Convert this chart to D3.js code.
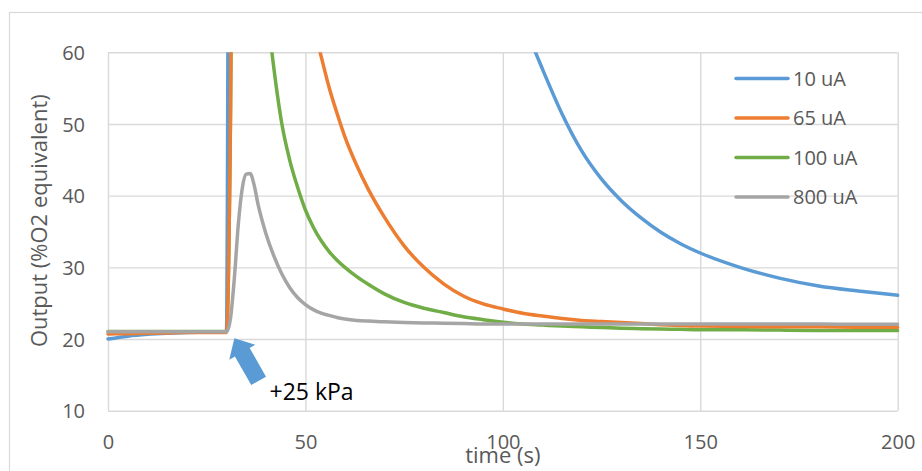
<!DOCTYPE html>
<html>
<head>
<meta charset="utf-8">
<script src="https://cdn.jsdelivr.net/npm/d3@7"></script>
<style>
  html, body { margin: 0; padding: 0; background: #fff; }
  svg { display: block; }
  text { font-family: 'Open Sans', 'Noto Sans', sans-serif; }
</style>
</head>
<body>
<svg id="chart" width="922" height="471"></svg>
<script>
// ---- data ----
const times = [0,5,10,15,20,25,29,30,31,32,33,34,35,36,37,38,39,40,42,44,46,48,50,52,54,56,58,60,63,66,70,75,80,85,90,95,100,105,110,115,120,125,130,135,140,145,150,160,170,180,190,200];

const s10uA = [20.0,20.4,20.65,20.8,20.9,20.95,21.0,21.0,150,149,148.5,148,147.5,147,146.5,146,145.5,145,144,142.5,141,139.5,138,136,134,132,130,128,124.5,121,116,110,103,95.5,87.5,79.5,71.8,64.5,57.7,51.4,46.2,42.3,39.3,36.9,34.9,33.3,32.0,30.0,28.5,27.4,26.7,26.1];

const s65uA = [20.7,20.75,20.8,20.85,20.9,20.9,20.9,20.9,50,126,122.5,119,115.5,112,108.5,105,101.5,98,91.5,85,79,73.5,68.5,63.8,59.4,55.1,51.5,48.2,44.2,40.8,37.0,33.0,30.0,27.7,26.0,24.9,24.2,23.6,23.2,22.85,22.6,22.45,22.3,22.15,22.0,21.9,21.8,21.75,21.7,21.7,21.65,21.65];

const s100uA = [21.05,21.05,21.05,21.05,21.05,21.05,21.05,21.05,50,126,117,108,100,92.5,85.5,79,73,67.5,57.8,50.1,45.0,41.2,38.0,35.6,33.7,32.2,31.0,30.0,28.7,27.6,26.3,25.1,24.3,23.7,23.1,22.7,22.35,22.1,21.95,21.8,21.7,21.6,21.5,21.45,21.4,21.35,21.3,21.3,21.25,21.2,21.2,21.2];

const s800uA = [21.0,21.0,21.0,21.0,21.0,21.0,21.0,21.0,22.8,28.5,36,41,43,43.1,41.5,38.8,36.6,34.7,31.6,29.1,27.2,25.8,24.8,24.1,23.6,23.3,23.0,22.8,22.6,22.5,22.4,22.3,22.25,22.2,22.15,22.1,22.1,22.1,22.1,22.1,22.1,22.1,22.1,22.1,22.1,22.1,22.1,22.1,22.1,22.08,22.06,22.05];

const seriesNames = ["10 uA", "65 uA", "100 uA", "800 uA"];
const seriesValues = [s10uA, s65uA, s100uA, s800uA];
const seriesColors = ["#5B9BD5", "#ED7D31", "#70AD47", "#A5A5A5"];
const drawOrder = [2, 0, 1, 3];

const xTicks = [0, 50, 100, 150, 200];
const yTicks = [10, 20, 30, 40, 50, 60];
const xTitle = "time (s)";
const yTitle = "Output (%O2 equivalent)";
const annotationText = "+25 kPa";
const annotationPoint = [32, 20.1];

// ---- layout ----
const plot = { left: 108, right: 897.7, top: 52.3, bottom: 410.7 };
const svg = d3.select("#chart");

// outer chart border
svg.append("rect")
  .attr("x", 9.5).attr("y", 12.5)
  .attr("width", 1000).attr("height", 1000)
  .attr("fill", "none").attr("stroke", "#d9d9d9").attr("stroke-width", 1.2);

const x = d3.scaleLinear().domain([0, 200]).range([plot.left, plot.right]);
const y = d3.scaleLinear().domain([10, 60]).range([plot.bottom, plot.top]);

// grid + y axis labels
const yAxis = svg.append("g")
  .attr("transform", `translate(${plot.left},0)`)
  .call(d3.axisLeft(y).tickValues(yTicks).tickSize(-(plot.right - plot.left)).tickPadding(23));
yAxis.select(".domain").remove();
yAxis.selectAll("line").attr("stroke", "#d9d9d9").attr("stroke-width", 1.4);
yAxis.selectAll("text").attr("fill", "#595959").style("font-size", "20px").attr("dy", "0.36em");

const xAxis = svg.append("g")
  .attr("transform", `translate(0,${plot.bottom})`)
  .call(d3.axisBottom(x).tickValues(xTicks).tickSize(-(plot.bottom - plot.top)).tickPadding(24));
xAxis.select(".domain").remove();
xAxis.selectAll("line").attr("stroke", "#d9d9d9").attr("stroke-width", 1.4);
xAxis.selectAll("text").attr("fill", "#595959").style("font-size", "20px");

// axis titles
svg.append("text")
  .attr("x", (plot.left + plot.right) / 2)
  .attr("y", 463)
  .attr("text-anchor", "middle")
  .attr("fill", "#595959")
  .style("font-size", "22px")
  .text(xTitle);

svg.append("text")
  .attr("transform", `translate(46.5,${220.7}) rotate(-90)`)
  .attr("text-anchor", "middle")
  .attr("fill", "#595959")
  .style("font-size", "22px")
  .text(yTitle);

// clip
svg.append("clipPath").attr("id", "clip")
  .append("rect")
  .attr("x", plot.left - 2).attr("y", plot.top)
  .attr("width", plot.right - plot.left + 4).attr("height", plot.bottom - plot.top);

const line = d3.line()
  .x((d, i) => x(times[i]))
  .y(d => y(d))
  .curve(d3.curveMonotoneX);

const gLines = svg.append("g").attr("clip-path", "url(#clip)");
drawOrder.forEach(k => {
  gLines.append("path")
    .datum(seriesValues[k])
    .attr("d", line)
    .attr("fill", "none")
    .attr("stroke", seriesColors[k])
    .attr("stroke-width", 3.5)
    .attr("stroke-linejoin", "round")
    .attr("stroke-linecap", "round");
});

// legend
const legend = svg.append("g");
seriesNames.forEach((name, i) => {
  const ly = 78.6 + i * 39.5;
  legend.append("line")
    .attr("x1", 736).attr("x2", 788)
    .attr("y1", ly).attr("y2", ly)
    .attr("stroke", seriesColors[i]).attr("stroke-width", 3.5)
    .attr("stroke-linecap", "round");
  legend.append("text")
    .attr("x", 793).attr("y", ly)
    .attr("dy", "0.36em")
    .attr("fill", "#595959")
    .style("font-size", "20px")
    .text(name);
});

// annotation arrow (block arrow pointing up-left to the pressure step)
const tipX = x(annotationPoint[0]), tipY = y(annotationPoint[1]);
const ang = Math.atan2(380.3 - 337.7, 258.3 - 234) * 180 / Math.PI;
const arrowLen = 49, headLen = 16, headW = 30, shaftW = 17;
const arrowPts = [
  [0, 0],
  [headLen, -headW / 2],
  [headLen, -shaftW / 2],
  [arrowLen, -shaftW / 2],
  [arrowLen, shaftW / 2],
  [headLen, shaftW / 2],
  [headLen, headW / 2]
];
svg.append("polygon")
  .attr("points", arrowPts.map(p => p.join(",")).join(" "))
  .attr("transform", `translate(${tipX},${tipY}) rotate(${ang})`)
  .attr("fill", "#5B9BD5");

svg.append("text")
  .attr("x", 269.5).attr("y", 400)
  .attr("fill", "#000")
  .style("font-size", "23px")
  .text(annotationText);
</script>
</body>
</html>
